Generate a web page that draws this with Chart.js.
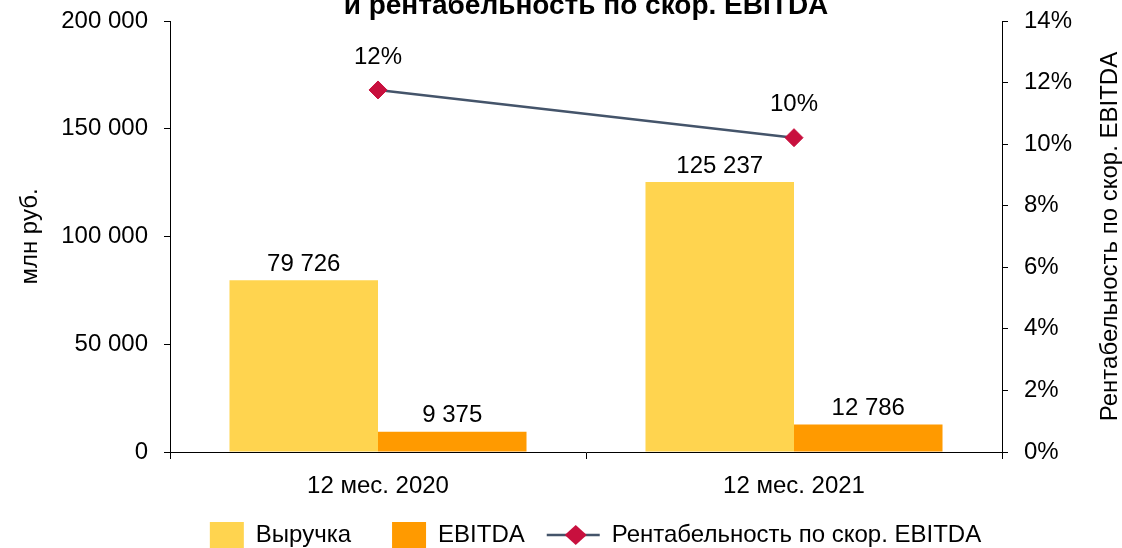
<!DOCTYPE html>
<html>
<head>
<meta charset="utf-8">
<script src="https://cdn.jsdelivr.net/npm/chart.js@4/dist/chart.umd.min.js"></script>
<style>
  body { margin: 0; background: #fff; }
  #wrap { width: 1122px; height: 548px; overflow: hidden; }
</style>
</head>
<body>
<div id="wrap"><canvas id="chart" width="1122" height="548"></canvas></div>
<script>
// Данные
const categories = ["12 мес. 2020", "12 мес. 2021"];
const revenue = [79726, 125237];
const ebitda = [9375, 12786];
const margin = [0.1176, 0.1021];

const leftTicks = { min: 0, max: 200000, step: 50000 };
const rightTicks = { min: 0, max: 0.14, step: 0.02 };

const FONT = "'Liberation Sans', Arial, sans-serif";
const FS = 24;
const BLACK = "#000";

// пробел как разделитель тысяч
const fmtNum = (v) => String(Math.round(v)).replace(/\B(?=(\d{3})+(?!\d))/g, " ");
const fmtPct = (v) => Math.round(v * 100) + "%";

// Подписи значений, заголовок и подпись правой оси
const extras = {
  id: "extras",
  afterDatasetsDraw(chart) {
    const ctx = chart.ctx;
    ctx.save();
    ctx.fillStyle = BLACK;
    ctx.font = FS + "px " + FONT;
    ctx.textAlign = "center";
    ctx.textBaseline = "middle";
    [0, 1].forEach((di) => {
      const meta = chart.getDatasetMeta(di);
      meta.data.forEach((bar, i) => {
        ctx.fillText(fmtNum(chart.data.datasets[di].data[i]), bar.x, bar.y - 16);
      });
    });
    const lineMeta = chart.getDatasetMeta(2);
    lineMeta.data.forEach((pt, i) => {
      ctx.fillText(fmtPct(margin[i]), pt.x, pt.y - 33);
    });
    ctx.restore();
  },
  afterDraw(chart) {
    const ctx = chart.ctx;
    const area = chart.chartArea;
    ctx.save();
    // заголовок (обрезан сверху, как в оригинале)
    ctx.fillStyle = BLACK;
    ctx.font = "bold 28px " + FONT;
    ctx.textAlign = "center";
    ctx.textBaseline = "alphabetic";
    ctx.fillText("и рентабельность по скор. EBITDA", (area.left + area.right) / 2, 14);

    // подпись правой оси, снизу вверх
    ctx.font = FS + "px " + FONT;
    ctx.textBaseline = "middle";
    ctx.translate(1110, (area.top + area.bottom) / 2);
    ctx.rotate(-Math.PI / 2);
    ctx.fillText("Рентабельность по скор. EBITDA", 0, 0);
    ctx.restore();

    // значок линии в легенде
    const box = chart.legend.legendHitBoxes[2];
    if (box) {
      const cy = box.top + box.height / 2;
      const cx = box.left + 10;
      ctx.save();
      ctx.strokeStyle = "#44546A";
      ctx.lineWidth = 2.5;
      ctx.beginPath();
      ctx.moveTo(box.left - 19, cy);
      ctx.lineTo(box.left + 34, cy);
      ctx.stroke();
      ctx.fillStyle = "#C8103E";
      ctx.beginPath();
      ctx.moveTo(cx - 11, cy);
      ctx.lineTo(cx, cy - 10);
      ctx.lineTo(cx + 11, cy);
      ctx.lineTo(cx, cy + 10);
      ctx.closePath();
      ctx.fill();
      ctx.restore();
    }
  },
};

const axisGrid = { drawOnChartArea: false, drawTicks: true, tickLength: 6, color: BLACK, lineWidth: 1 };

// вертикальные оси: фиксированная ширина, без автоотступа сверху
const fixWidth = (w) => (scale) => {
  scale.width = w;
  scale.paddingTop = 0;
  scale.paddingBottom = 0;
};

const chart = new Chart(document.getElementById("chart").getContext("2d"), {
  type: "bar",
  data: {
    labels: categories,
    datasets: [
      {
        label: "Выручка",
        data: revenue,
        backgroundColor: "#FFD44F",
        categoryPercentage: 0.714,
        barPercentage: 1,
        yAxisID: "y",
      },
      {
        label: "EBITDA",
        data: ebitda,
        backgroundColor: "#FF9A00",
        categoryPercentage: 0.714,
        barPercentage: 1,
        yAxisID: "y",
      },
      {
        type: "line",
        label: "Рентабельность по скор. EBITDA",
        data: margin,
        borderColor: "#44546A",
        borderWidth: 2.5,
        backgroundColor: "#C8103E",
        pointStyle: "rectRot",
        pointRadius: 9,
        pointBorderColor: "#C8103E",
        pointBorderWidth: 1,
        yAxisID: "y1",
      },
    ],
  },
  options: {
    responsive: false,
    animation: false,
    layout: { autoPadding: false, padding: { left: 0, right: -69, top: 21, bottom: -10 } },
    plugins: {
      tooltip: { enabled: false },
      legend: {
        position: "bottom",
        labels: {
          color: BLACK,
          font: { family: FONT, size: FS },
          boxWidth: 34,
          boxHeight: 26,
          padding: 41,
          generateLabels(chart) {
            const items = Chart.defaults.plugins.legend.labels.generateLabels(chart);
            items.forEach((it) => {
              it.lineWidth = 0;
              if (it.datasetIndex === 2) {
                it.fillStyle = "rgba(0,0,0,0)";
                it.strokeStyle = "rgba(0,0,0,0)";
              }
            });
            return items;
          },
        },
      },
    },
    scales: {
      x: {
        offset: true,
        grid: { offset: true, drawOnChartArea: false, drawTicks: true, tickLength: 7, color: BLACK },
        border: { color: BLACK, width: 1 },
        ticks: { color: BLACK, font: { family: FONT, size: FS }, padding: 13, maxRotation: 0 },
        afterFit(scale) {
          scale.height = 29;
          // подписи выходят за узкую полосу оси — не обрезать их
          scale._computeLabelArea = () => undefined;
        },
      },
      y: {
        position: "left",
        min: leftTicks.min,
        max: leftTicks.max,
        grid: axisGrid,
        border: { color: BLACK, width: 1 },
        ticks: {
          stepSize: leftTicks.step,
          color: BLACK,
          font: { family: FONT, size: FS },
          padding: 16,
          callback: (v) => fmtNum(v),
        },
        title: {
          display: true,
          text: "млн руб.",
          color: BLACK,
          font: { family: FONT, size: FS },
          padding: { top: 16, bottom: 0 },
        },
        afterFit: fixWidth(170),
      },
      y1: {
        position: "right",
        min: rightTicks.min,
        max: rightTicks.max,
        grid: axisGrid,
        border: { color: BLACK, width: 1 },
        ticks: {
          stepSize: rightTicks.step,
          color: BLACK,
          font: { family: FONT, size: FS },
          padding: 16,
          callback: (v) => fmtPct(v),
        },
        afterFit: fixWidth(189),
      },
    },
  },
  plugins: [extras],
});
</script>
</body>
</html>
